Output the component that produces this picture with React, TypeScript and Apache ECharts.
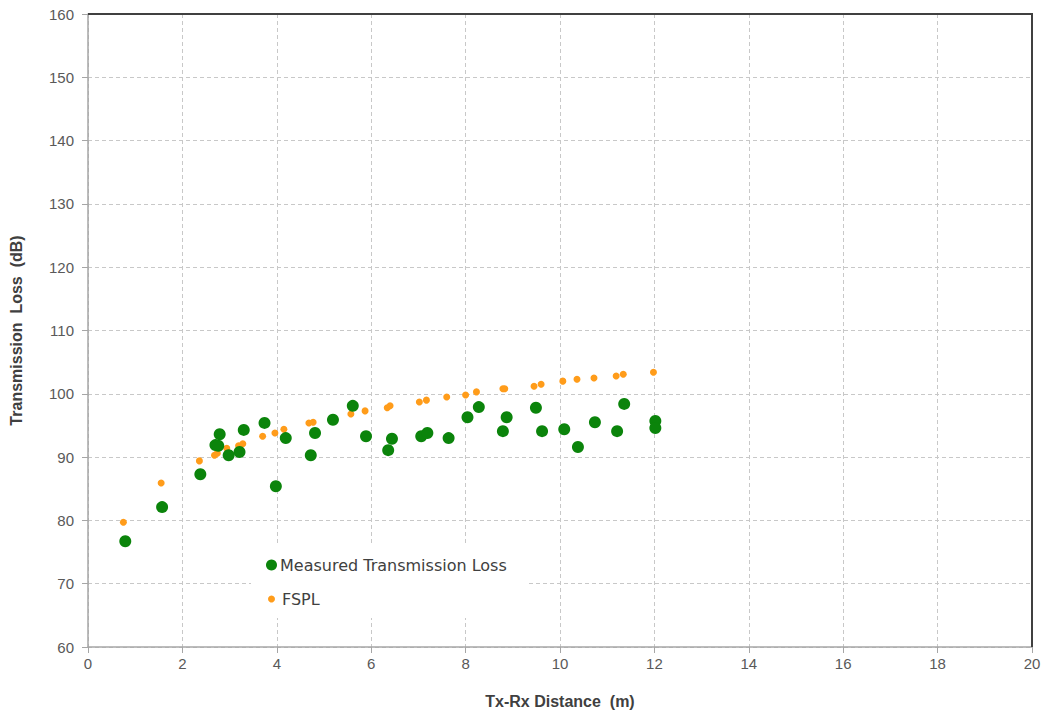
import React, { useEffect, useRef } from "react";
import * as echarts from "echarts";

const measuredX = [0.79, 1.57, 2.38, 2.70, 2.76, 2.79, 2.98, 3.21, 3.30, 3.74, 3.98, 4.19, 4.72, 4.81, 5.19, 5.61, 5.89, 6.36, 6.44, 7.06, 7.19, 7.64, 8.04, 8.28, 8.79, 8.87, 9.49, 9.62, 10.09, 10.38, 10.74, 11.21, 11.36, 12.02, 12.02];
const measuredY = [76.7, 82.1, 87.3, 91.9, 91.8, 93.6, 90.3, 90.8, 94.3, 95.4, 85.4, 93.0, 90.3, 93.8, 95.9, 98.1, 93.3, 91.1, 92.9, 93.3, 93.8, 93.0, 96.3, 97.9, 94.1, 96.3, 97.8, 94.1, 94.4, 91.6, 95.5, 94.1, 98.4, 95.7, 94.6];

const fsplX = [0.75, 1.55, 2.36, 2.68, 2.74, 2.94, 3.19, 3.28, 3.70, 3.96, 4.15, 4.68, 4.77, 5.17, 5.57, 5.87, 6.34, 6.40, 7.02, 7.17, 7.60, 8.00, 8.23, 8.79, 8.83, 9.45, 9.60, 10.06, 10.36, 10.72, 11.19, 11.34, 11.98];
const fsplY = [79.7, 85.9, 89.4, 90.3, 90.6, 91.4, 91.8, 92.1, 93.3, 93.8, 94.4, 95.4, 95.5, 96.0, 96.8, 97.3, 97.8, 98.1, 98.7, 99.0, 99.5, 99.8, 100.3, 100.8, 100.8, 101.2, 101.5, 102.0, 102.3, 102.5, 102.8, 103.1, 103.4];

const seriesNames = ["Measured Transmission Loss", "FSPL"];
const xAxisTitle = "Tx-Rx Distance  (m)";
const yAxisTitle = "Transmission  Loss  (dB)";

export default function App() {
  const ref = useRef<HTMLDivElement>(null);
  useEffect(() => {
    if (!ref.current) return;
    const chart = echarts.init(ref.current, undefined, { renderer: "svg" });
    const font = "'Liberation Sans', Arial, sans-serif";
    const legendFont = "'DejaVu Sans', 'Liberation Sans', sans-serif";
    const L = 88, R = 1032, T = 14, B = 647;
    chart.setOption({
      animation: false,
      backgroundColor: "#ffffff",
      textStyle: { fontFamily: font },
      grid: {
        left: L,
        right: 1047 - R,
        top: T,
        bottom: 717 - B,
        show: false,
      },
      xAxis: {
        type: "value",
        min: 0,
        max: 20,
        interval: 2,
        name: xAxisTitle,
        nameLocation: "middle",
        nameGap: 46,
        nameTextStyle: { fontSize: 16, fontWeight: "bold", color: "#404040", fontFamily: font },
        axisLine: { show: true, lineStyle: { color: "#a6a6a6", width: 1.5 } },
        axisTick: { show: true, length: 6, lineStyle: { color: "#a6a6a6" } },
        axisLabel: { fontSize: 15, color: "#595959", margin: 9 },
        splitLine: { show: true, lineStyle: { color: "#c8c8c8", type: [4, 3] } },
      },
      yAxis: {
        type: "value",
        min: 60,
        max: 160,
        interval: 10,
        name: yAxisTitle,
        nameLocation: "middle",
        nameGap: 64,
        nameRotate: 90,
        nameTextStyle: { fontSize: 16, fontWeight: "bold", color: "#404040", fontFamily: font },
        axisLine: { show: true, lineStyle: { color: "#a6a6a6", width: 1.5 } },
        axisTick: { show: true, length: 6, lineStyle: { color: "#a6a6a6" } },
        axisLabel: { fontSize: 15, color: "#595959", margin: 14 },
        splitLine: { show: true, lineStyle: { color: "#c8c8c8", type: [4, 3] } },
      },
      graphic: [
        {
          type: "rect",
          z: 3,
          shape: { x: 251, y: 543, width: 276, height: 75 },
          style: { fill: "#ffffff" },
        },
        {
          type: "polyline",
          z: 10,
          shape: { points: [[L, T], [R, T], [R, B]] },
          style: { stroke: "#404040", lineWidth: 2, fill: null },
        },
      ],
      legend: [
        {
          data: [seriesNames[0]],
          left: 261,
          top: 552,
          orient: "vertical",
          icon: "circle",
          itemWidth: 11,
          itemHeight: 11,
          itemGap: 4,
          z: 5,
          textStyle: { fontSize: 16, color: "#404040", fontFamily: legendFont, padding: [0, 0, 0, -2] },
        },
        {
          data: [seriesNames[1]],
          left: 263,
          top: 586,
          orient: "vertical",
          icon: "circle",
          itemWidth: 7,
          itemHeight: 7,
          itemGap: 4,
          z: 5,
          textStyle: { fontSize: 16, color: "#404040", fontFamily: legendFont, padding: [0, 0, 0, 2] },
        },
      ],
      series: [
        {
          name: seriesNames[1],
          type: "scatter",
          symbol: "circle",
          symbolSize: 7,
          itemStyle: { color: "#ff9c1a", opacity: 1 },
          data: fsplX.map((x, i) => [x, fsplY[i]]),
          z: 2,
        },
        {
          name: seriesNames[0],
          type: "scatter",
          symbol: "circle",
          symbolSize: 12,
          itemStyle: { color: "#0b840b", opacity: 1 },
          data: measuredX.map((x, i) => [x, measuredY[i]]),
          z: 2,
        },
      ],
    });
    return () => chart.dispose();
  }, []);
  return <div ref={ref} style={{ width: 1047, height: 717, position: "absolute", left: 0, top: 0 }} />;
}
